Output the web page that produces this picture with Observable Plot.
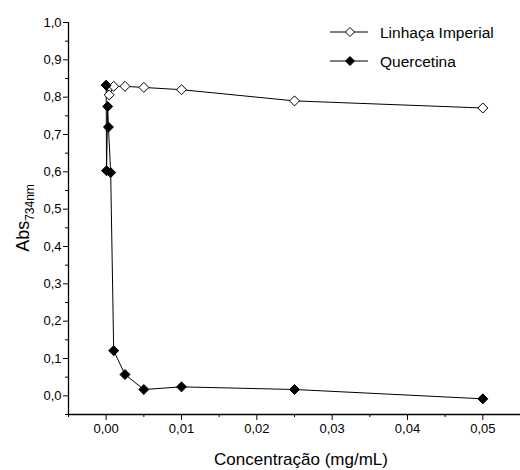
<!DOCTYPE html>
<html><head><meta charset="utf-8">
<script src="https://cdn.jsdelivr.net/npm/d3@7"></script>
<script src="https://cdn.jsdelivr.net/npm/@observablehq/plot@0.6"></script>
<style>body{margin:0;background:#fff;font-family:"Liberation Sans",Arial,sans-serif;}</style>
</head><body><div id="chart"></div>
<script>
const linhacaX = [0, 0.0004, 0.001, 0.0025, 0.005, 0.01, 0.025, 0.05];
const linhacaY = [0.832, 0.806, 0.829, 0.829, 0.826, 0.82, 0.79, 0.771];
const quercX = [0, 0.00005, 0.0002, 0.0003, 0.0006, 0.001, 0.0025, 0.005, 0.01, 0.025, 0.05];
const quercY = [0.832, 0.603, 0.775, 0.72, 0.598, 0.121, 0.057, 0.017, 0.024, 0.017, -0.008];
const seriesNames = ["Linhaça Imperial", "Quercetina"];
const xTicks = [0, 0.01, 0.02, 0.03, 0.04, 0.05];
const xMinor = [-0.005, 0.005, 0.015, 0.025, 0.035, 0.045, 0.055];
const yTicks = [0, 0.1, 0.2, 0.3, 0.4, 0.5, 0.6, 0.7, 0.8, 0.9, 1.0];
const yMinor = [-0.05, 0.05, 0.15, 0.25, 0.35, 0.45, 0.55, 0.65, 0.75, 0.85, 0.95];
const xTitle = "Concentração (mg/mL)";

const lin = linhacaX.map((x, i) => ({x, y: linhacaY[i]}));
const que = quercX.map((x, i) => ({x, y: quercY[i]}));
const comma = f => v => d3.format(f)(v).replace(".", ",");

const plot = Plot.plot({
  width: 520, height: 470,
  marginLeft: 68, marginRight: 0, marginTop: 22, marginBottom: 56,
  style: {fontFamily: "'Liberation Sans', Arial, sans-serif", fontSize: "13px", color: "#000", background: "#fff"},
  x: {domain: [-0.005, 0.055]},
  y: {domain: [-0.05, 1.0]},
  marks: [
    Plot.axisX({ticks: xTicks, tickFormat: comma(".2f"), tickSize: 6, tickPadding: 3, label: null, fontSize: 13}),
    Plot.axisX({ticks: xMinor, text: null, tickSize: 3, label: null}),
    Plot.axisY({ticks: yTicks, tickFormat: comma(".1f"), tickSize: 5, tickPadding: 2, label: null, fontSize: 13}),
    Plot.axisY({ticks: yMinor, text: null, tickSize: 3, label: null}),
    Plot.ruleX([-0.005], {stroke: "#000", strokeWidth: 1.3}),
    Plot.ruleY([-0.05], {stroke: "#000", strokeWidth: 1.3}),
    Plot.line(que, {x: "x", y: "y", stroke: "#000", strokeWidth: 1, curve: "linear"}),
    Plot.line(lin, {x: "x", y: "y", stroke: "#000", strokeWidth: 1, curve: "linear"}),
    Plot.dot(lin, {x: "x", y: "y", symbol: "diamond2", r: 4.5, fill: "#fff", stroke: "#000", strokeWidth: 1}),
    Plot.dot(que, {x: "x", y: "y", symbol: "diamond2", r: 4.5, fill: "#000", stroke: "#000", strokeWidth: 1})
  ]
});
document.getElementById("chart").appendChild(plot);

const svg = d3.select(plot);
// x axis title
svg.append("text").attr("x", 301).attr("y", 465).attr("text-anchor", "middle")
  .attr("font-size", 17).attr("fill", "#000").text(xTitle);
// y axis title with subscript
const yt = svg.append("text").attr("transform", "translate(29,218) rotate(-90)")
  .attr("text-anchor", "middle").attr("font-size", 18).attr("fill", "#000");
yt.append("tspan").text("Abs");
yt.append("tspan").attr("font-size", 12).attr("dy", 5).text("734nm");
// legend
const leg = svg.append("g").attr("text-anchor", "start");
seriesNames.forEach((name, i) => {
  const y = 32 + i * 29;
  leg.append("line").attr("x1", 330).attr("x2", 368).attr("y1", y).attr("y2", y).attr("stroke", "#000");
  leg.append("path").attr("d", `M350,${y-4.5}L354.5,${y}L350,${y+4.5}L345.5,${y}Z`)
    .attr("fill", i === 0 ? "#fff" : "#000").attr("stroke", "#000");
  leg.append("text").attr("x", 380).attr("y", y + 5.5).attr("text-anchor", "start")
    .attr("font-size", 15.5).attr("fill", "#000").text(name);
});
</script></body></html>
